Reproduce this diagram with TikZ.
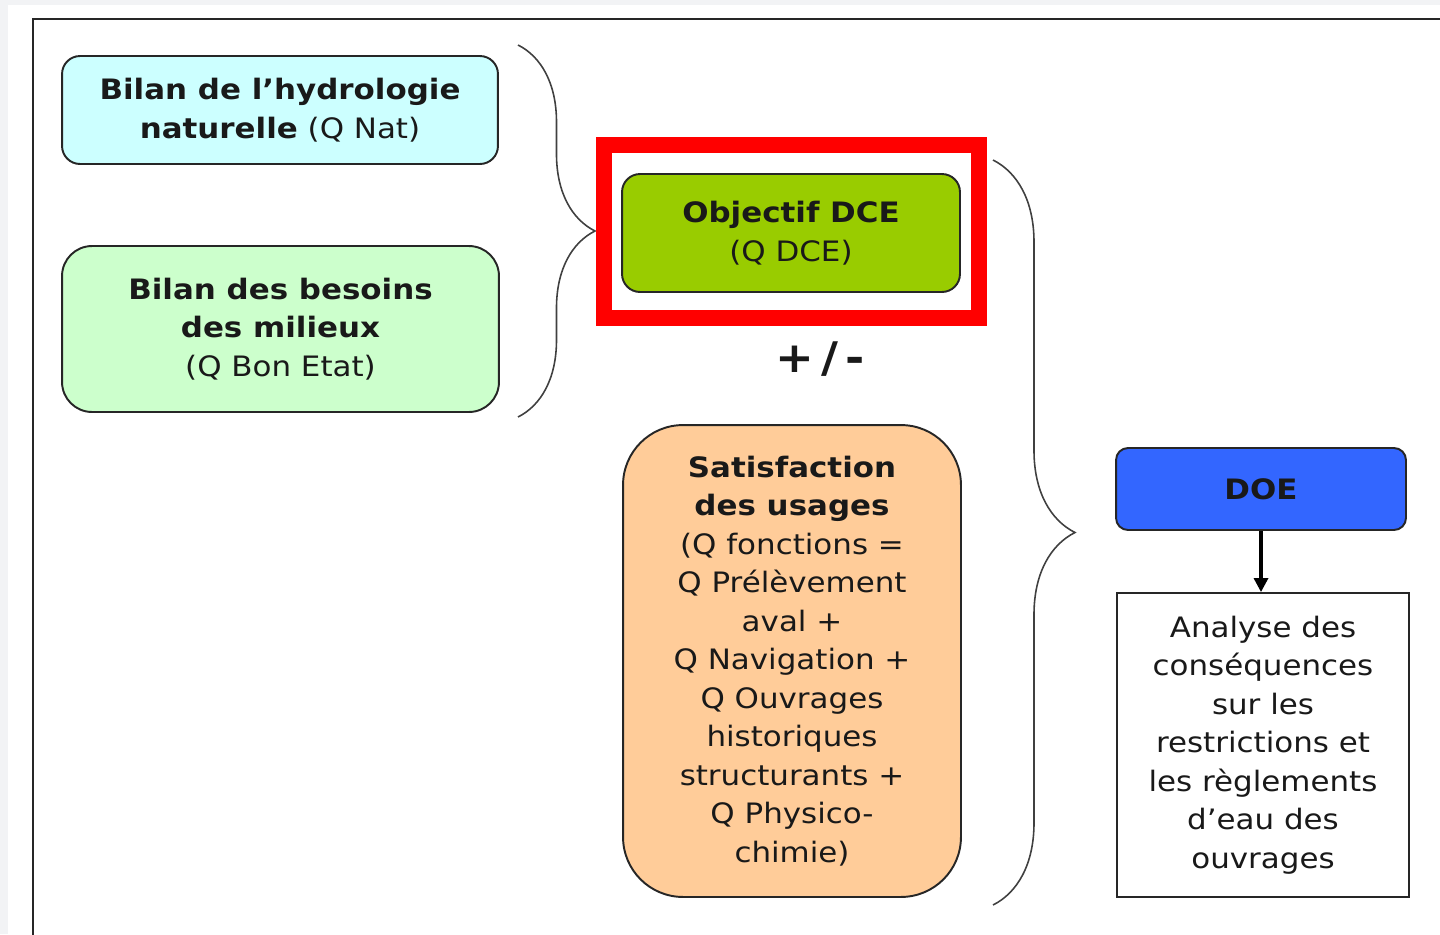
\documentclass[tikz,border=0pt]{standalone}
\usepackage{fontspec}
\setmainfont{DejaVu Sans}[FakeStretch=1.1]
\usepackage{tikz}
\usetikzlibrary{arrows.meta,decorations.pathreplacing}

\definecolor{bleuclair}{HTML}{CCFFFF}
\definecolor{vertclair}{HTML}{CCFFCC}
\definecolor{vertdce}{HTML}{99CC00}
\definecolor{orangeclair}{HTML}{FFCC99}
\definecolor{bleudoe}{HTML}{3366FF}
\definecolor{rougecadre}{HTML}{FF0000}
\definecolor{fondgris}{HTML}{F2F3F5}

\begin{document}
\begin{tikzpicture}[x=0.02cm,y=-0.02cm,
  boite/.style={draw=black!85,line width=1.1pt,align=center,inner sep=0pt,
    text=black!90,font=\fontsize{16}{21.9}\selectfont},
  accolade/.style={decorate,decoration={brace,amplitude=#1},draw=black!75,line width=0.9pt},
  fleche/.style={-{Triangle[length=8pt,width=8pt]},line width=1.8pt,black}]
\useasboundingbox (0,0) rectangle (1440,934);
\fill[fondgris] (0,0) rectangle (8,934);
\fill[fondgris] (0,0) rectangle (1440,5);
\draw[black!85,line width=1.1pt] (1450,19) -- (33,19) -- (33,945);
% Bilans a gauche
\node[boite,fill=bleuclair,rounded corners=0.36cm,minimum width=8.72cm,minimum height=2.16cm]
  (hydro) at (280,110) {\textbf{Bilan de l’hydrologie}\\\textbf{naturelle} (Q Nat)};
\node[boite,fill=vertclair,rounded corners=0.6cm,minimum width=8.74cm,minimum height=3.32cm]
  (besoins) at (280.5,329) {\textbf{Bilan des besoins}\\\textbf{des milieux}\\(Q Bon Etat)};
\coordinate (acc1h) at (518,45);
\coordinate (acc1b) at (518,417);
\draw[accolade=1.54cm] (acc1h) -- (acc1b);
% Objectif DCE
\node[draw=rougecadre,line width=0.32cm,minimum width=7.5cm,minimum height=3.46cm]
  (cadre) at (791.5,231.5) {};
\node[boite,fill=vertdce,rounded corners=0.36cm,minimum width=6.76cm,minimum height=2.36cm]
  (dce) at (791,233) {\textbf{Objectif DCE}\\(Q DCE)};
\node[font=\fontsize{24}{28}\selectfont\bfseries,text=black!90] (plusmoins) at (820,359) {+\,/\,-};
\node[boite,fill=orangeclair,rounded corners=1.2cm,minimum width=6.76cm,minimum height=9.44cm]
  (usages) at (792,661) {\textbf{Satisfaction}\\\textbf{des usages}\\(Q fonctions =\\Q Prélèvement\\aval +\\
  Q Navigation +\\Q Ouvrages\\historiques\\structurants +\\Q Physico-\\chimie)};
\coordinate (acc2h) at (993,160);
\coordinate (acc2b) at (993,905);
\draw[accolade=1.64cm] (acc2h) -- (acc2b);
% DOE
\node[boite,fill=bleudoe,rounded corners=0.24cm,minimum width=5.8cm,minimum height=1.64cm]
  (doe) at (1261,489) {\textbf{DOE}};
\node[boite,fill=white,minimum width=5.84cm,minimum height=6.08cm]
  (analyse) at (1263,745) {Analyse des\\conséquences\\sur les\\restrictions et\\les règlements\\d’eau des\\ouvrages};
\draw[fleche] (doe.south) -- (doe.south |- analyse.north);
\end{tikzpicture}
\end{document}
